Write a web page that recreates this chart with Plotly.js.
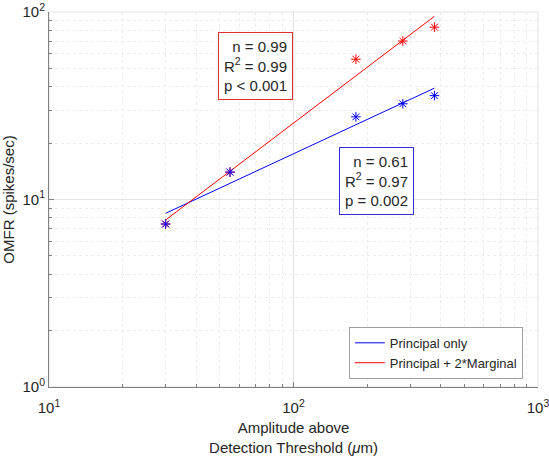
<!DOCTYPE html>
<html>
<head>
<meta charset="utf-8">
<script src="https://cdn.plot.ly/plotly-3.0.1.min.js"></script>
<style>
  html, body { margin: 0; padding: 0; background: #fff; }
  #chart { width: 549px; height: 461px; }
</style>
</head>
<body>
<div id="chart"></div>
<script>
// Amplitude above detection threshold (µm)
const amplitude = [30, 55, 180, 280, 377];
// Onset mean firing rate (spikes/sec)
const principalOnly = [7.4, 14, 27.6, 32.4, 35.8];
const principalPlusMarginal = [7.4, 14, 56, 70, 83];

const seriesNames = ['Principal only', 'Principal + 2*Marginal'];
const fitStatsPrincipal = ['n = 0.61', 'R<sup>2</sup> = 0.97', 'p = 0.002'];
const fitStatsCombined = ['n = 0.99', 'R<sup>2</sup> = 0.99', 'p &lt; 0.001'];

const majorTicks = [10, 100, 1000];
const majorTickText = ['10<sup>1</sup>', '10<sup>2</sup>', '10<sup>3</sup>'];
const yMajorTicks = [1, 10, 100];
const yMajorTickText = ['10<sup>0</sup>', '10<sup>1</sup>', '10<sup>2</sup>'];

// Power-law fit: least squares in log-log space, drawn across the data range
function powerFit(xs, ys) {
  const lx = xs.map(Math.log10), ly = ys.map(Math.log10);
  const n = lx.length;
  const mx = lx.reduce((a, b) => a + b, 0) / n;
  const my = ly.reduce((a, b) => a + b, 0) / n;
  let sxy = 0, sxx = 0;
  for (let i = 0; i < n; i++) { sxy += (lx[i] - mx) * (ly[i] - my); sxx += (lx[i] - mx) ** 2; }
  const slope = sxy / sxx, icpt = my - slope * mx;
  const x0 = Math.min(...xs), x1 = Math.max(...xs);
  return { x: [x0, x1], y: [x0, x1].map(v => Math.pow(10, icpt + slope * Math.log10(v))) };
}

function minorVals(decadeStarts) {
  const out = [];
  decadeStarts.forEach(d => { for (let k = 2; k <= 9; k++) out.push(k * d); });
  return out;
}

const BLUE = '#0000ff', RED = '#ff0000';
const fitA = powerFit(amplitude, principalOnly);
const fitB = powerFit(amplitude, principalPlusMarginal);

const traces = [
  { x: fitA.x, y: fitA.y, mode: 'lines', name: seriesNames[0],
    line: { color: BLUE, width: 1 }, showlegend: true },
  { x: fitB.x, y: fitB.y, mode: 'lines', name: seriesNames[1],
    line: { color: RED, width: 1 }, showlegend: true },
  { x: amplitude, y: principalPlusMarginal, mode: 'markers', showlegend: false,
    marker: { symbol: 'asterisk-open', size: 8, color: RED, line: { color: RED, width: 1 } } },
  { x: amplitude, y: principalOnly, mode: 'markers', showlegend: false,
    marker: { symbol: 'asterisk-open', size: 8, color: BLUE, line: { color: BLUE, width: 1 } } }
];

const FONT = 'Liberation Sans, Arial, Helvetica, sans-serif';
const TXT = '#262626';

function axisBase() {
  return {
    type: 'log',
    showline: true, linecolor: '#808080', linewidth: 1,
    ticks: 'inside', ticklen: 5, tickcolor: '#808080', tickwidth: 1,
    showgrid: true, gridcolor: '#e3e3e3', gridwidth: 1,
    zeroline: false,
    tickmode: 'array',
    ticklabeloverflow: 'allow',
    tickfont: { family: FONT, size: 15, color: TXT }
  };
}

const xaxis = Object.assign(axisBase(), {
  range: [1, 3],
  tickvals: majorTicks, ticktext: majorTickText,
  ticklabelstandoff: 7,
  minor: { tickmode: 'array', tickvals: minorVals([10, 100]), ticks: 'inside', ticklen: 3,
           tickcolor: '#808080', showgrid: true, gridcolor: '#ececec', griddash: 'dot' },
  title: { text: 'Amplitude above<br>Detection Threshold (<i>μ</i>m)',
           font: { family: FONT, size: 15, color: TXT }, standoff: 7 }
});

const yaxis = Object.assign(axisBase(), {
  range: [0, 2],
  tickvals: yMajorTicks, ticktext: yMajorTickText,
  minor: { tickmode: 'array', tickvals: minorVals([1, 10]), ticks: 'inside', ticklen: 3,
           tickcolor: '#808080', showgrid: true, gridcolor: '#ececec', griddash: 'dot' },
  title: { text: 'OMFR (spikes/sec)', font: { family: FONT, size: 15, color: TXT }, standoff: 4 }
});

function statsBox(lines, color, x, y) {
  return {
    xref: 'paper', yref: 'paper', x: x, y: y, xanchor: 'right', yanchor: 'top',
    text: lines.join('<br>'), align: 'right', showarrow: false,
    font: { family: FONT, size: 15, color: TXT },
    bgcolor: '#ffffff', bordercolor: color, borderwidth: 1, borderpad: 5
  };
}

const layout = {
  width: 549, height: 461,
  margin: { l: 49, r: 11, t: 12, b: 74 },
  paper_bgcolor: '#ffffff', plot_bgcolor: '#ffffff',
  font: { family: FONT, color: TXT },
  xaxis: xaxis, yaxis: yaxis,
  showlegend: true,
  legend: {
    x: 0.969, y: 0.091, xanchor: 'right', yanchor: 'middle',
    bgcolor: '#ffffff', bordercolor: '#a0a0a0', borderwidth: 1,
    font: { family: FONT, size: 13, color: TXT },
    tracegroupgap: 0, itemwidth: 30
  },
  shapes: [{
    type: 'rect', xref: 'paper', yref: 'paper', x0: 0, x1: 1, y0: 0, y1: 1,
    line: { color: '#e3e3e3', width: 1 }, layer: 'below'
  }],
  annotations: [
    statsBox(fitStatsCombined, '#e03030', 0.499, 0.948),
    statsBox(fitStatsPrincipal, '#3030e0', 0.747, 0.639)
  ]
};

Plotly.newPlot('chart', traces, layout, { staticPlot: true, displayModeBar: false });
</script>
</body>
</html>
